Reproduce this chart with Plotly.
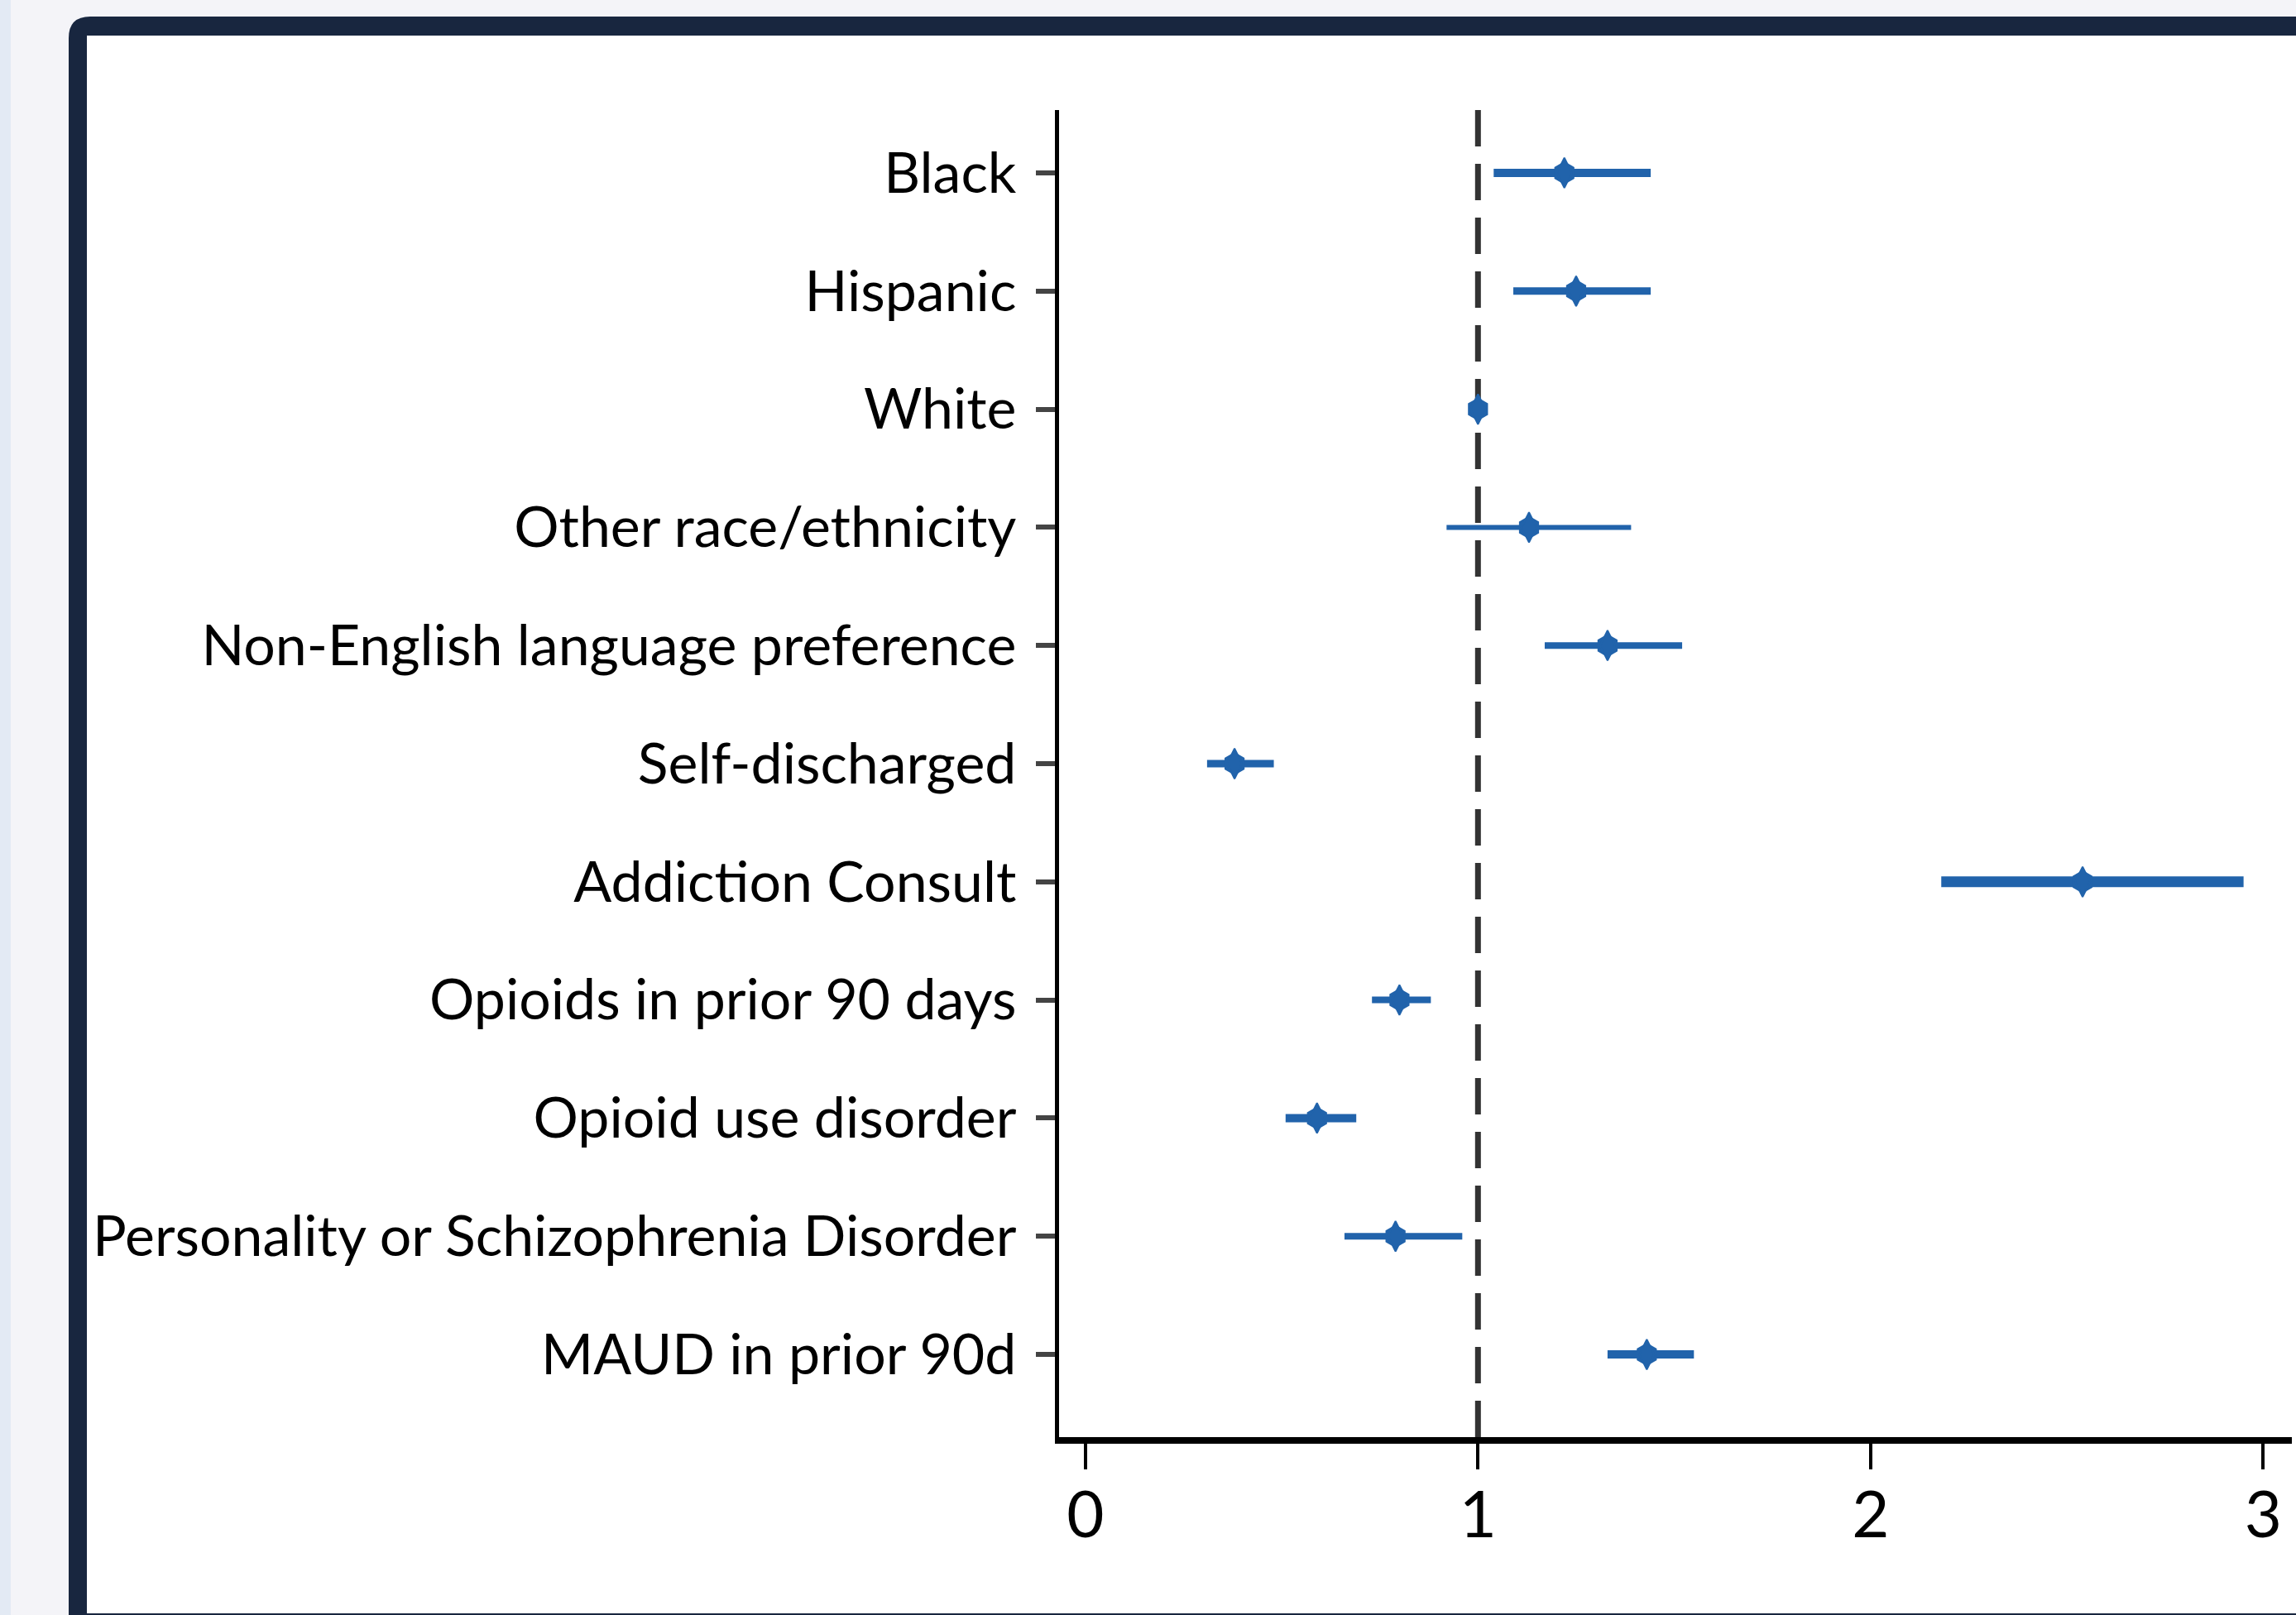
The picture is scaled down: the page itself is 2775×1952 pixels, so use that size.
import plotly.graph_objects as go

# ---- data ----
labels = [
    "Black",
    "Hispanic",
    "White",
    "Other race/ethnicity",
    "Non-English language preference",
    "Self-discharged",
    "Addiction Consult",
    "Opioids in prior 90 days",
    "Opioid use disorder",
    "Personality or Schizophrenia Disorder",
    "MAUD in prior 90d",
]
estimate = [1.22, 1.25, 1.00, 1.13, 1.33, 0.38, 2.54, 0.80, 0.59, 0.79, 1.43]
ci_low = [1.04, 1.09, None, 0.92, 1.17, 0.31, 2.18, 0.73, 0.51, 0.66, 1.33]
ci_high = [1.44, 1.44, None, 1.39, 1.52, 0.48, 2.95, 0.88, 0.69, 0.96, 1.55]
x_ticks = [0, 1, 2, 3]
reference_value = 1

# ---- style ----
ci_widths = [10, 9, 0, 6, 8, 9, 13, 8, 10, 8, 10]
blue = "#2163ab"
font_family = "Lato, Roboto, sans-serif"

W, H = 2775, 1952
L, R, T, B = 1280, 5, 133, 215


def px(x):
    return (x - L) / (W - L - R)


def py(y):
    return (H - B - y) / (H - T - B)


fig = go.Figure()

ypos = list(range(len(labels)))
for i, (lo, hi) in enumerate(zip(ci_low, ci_high)):
    if lo is None or hi is None:
        continue
    fig.add_trace(go.Scatter(
        x=[lo, hi], y=[ypos[i], ypos[i]], mode="lines",
        line=dict(color=blue, width=ci_widths[i]),
        showlegend=False, hoverinfo="skip",
    ))

# point estimates: hexagonal body + tall pointed tips
fig.add_trace(go.Scatter(
    x=estimate, y=ypos, mode="markers",
    marker=dict(symbol="hexagon", size=28, color=blue, line=dict(width=0)),
    showlegend=False, hoverinfo="skip",
))
fig.add_trace(go.Scatter(
    x=estimate, y=ypos, mode="markers",
    marker=dict(symbol="diamond-tall", size=26, color=blue,
                line=dict(width=2, color=blue)),
    showlegend=False,
))

shapes = []
# left light strip
shapes.append(dict(type="rect", xref="paper", yref="paper", layer="below",
                   x0=px(-5), x1=px(13), y0=py(-5), y1=py(H + 5),
                   fillcolor="#e3eaf4", line=dict(width=0)))
# navy frame with rounded top-left corner
path = (f"M {px(83)},{py(H + 10)} L {px(83)},{py(46)} "
        f"Q {px(83)},{py(20)} {px(109)},{py(20)} "
        f"L {px(W + 10)},{py(20)} L {px(W + 10)},{py(H + 10)} Z")
shapes.append(dict(type="path", xref="paper", yref="paper", layer="below",
                   path=path, fillcolor="#18263f", line=dict(width=0)))
# white inner panel
shapes.append(dict(type="rect", xref="paper", yref="paper", layer="below",
                   x0=px(105), x1=px(W + 10), y0=py(43), y1=py(1950),
                   fillcolor="#ffffff", line=dict(width=0)))
# reference dashed line
shapes.append(dict(type="line", xref="x", yref="paper",
                   x0=reference_value, x1=reference_value, y0=0, y1=1,
                   line=dict(color="#333333", width=7, dash="44px,21px"),
                   layer="below"))

fig.update_layout(
    width=W, height=H, autosize=False,
    margin=dict(l=L, r=R, t=T, b=B, pad=0, autoexpand=False),
    paper_bgcolor="#f4f4f8",
    plot_bgcolor="rgba(0,0,0,0)",
    shapes=shapes,
    font=dict(family=font_family, color="#000000"),
    showlegend=False,
)

fig.update_yaxes(
    automargin=False,
    tickmode="array", tickvals=ypos, ticktext=labels,
    range=[10.70, -0.532],
    showgrid=False, zeroline=False,
    showline=True, linewidth=5, linecolor="#000000",
    ticks="outside", ticklen=23, tickwidth=6, tickcolor="#444444",
    tickfont=dict(size=68, family=font_family, color="#000000"),
    ticklabelstandoff=10,
)
fig.update_xaxes(
    automargin=False,
    tickmode="array", tickvals=x_ticks, ticktext=[str(v) for v in x_ticks],
    range=[-0.067, 3.073],
    showgrid=False, zeroline=False,
    showline=True, linewidth=8, linecolor="#000000",
    ticks="outside", ticklen=31, tickwidth=4, tickcolor="#000000",
    tickfont=dict(size=78, family=font_family, color="#000000"),
    ticklabelstandoff=-12,
)

fig.write_html(
    "out.html",
    config={"displayModeBar": False},
    post_script="document.body.style.margin='0';document.body.style.overflow='hidden';",
)
